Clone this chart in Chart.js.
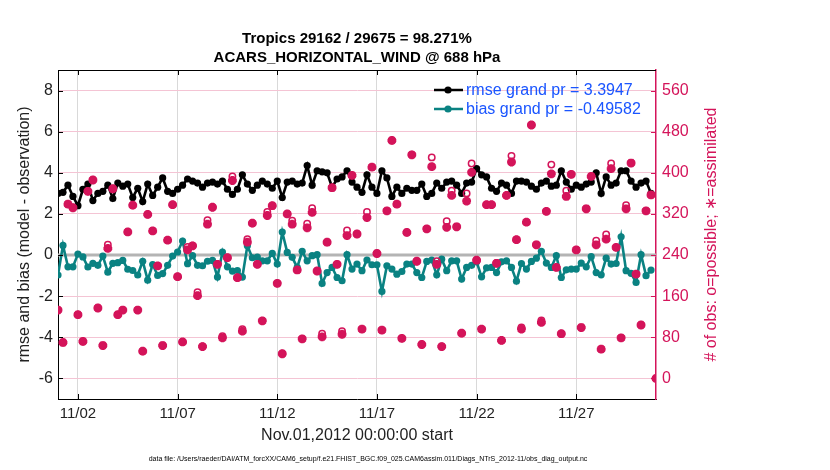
<!DOCTYPE html>
<html>
<head>
<meta charset="utf-8">
<title>Tropics ACARS_HORIZONTAL_WIND @ 688 hPa</title>
<script src="https://cdn.jsdelivr.net/npm/chart.js@4.4.0/dist/chart.umd.min.js"></script>
<style>
  html, body { margin: 0; padding: 0; background: #fff; }
  #wrap { position: relative; width: 830px; height: 470px; }
</style>
</head>
<body>
<div id="wrap"><canvas id="evolutionChart"></canvas></div>
<script>
// Texts
var titleLines = ["Tropics 29162 / 29675 = 98.271%", "ACARS_HORIZONTAL_WIND @ 688 hPa"];
var xTitle = "Nov.01,2012 00:00:00 start";
var yTitle = "rmse and bias (model - observation)";
var y2Title = "# of obs: o=possible; \u2217=assimilated";
var footnote = "data file: /Users/raeder/DAI/ATM_forcXX/CAM6_setup/f.e21.FHIST_BGC.f09_025.CAM6assim.011/Diags_NTrS_2012-11/obs_diag_output.nc";
var legendLabels = ["rmse grand pr = 3.3947", "bias grand pr = -0.49582"];

// Ticks (x in days since Nov 1 00Z)
var dayTicks = [1, 6, 11, 16, 21, 26];
var dayLabels = ["11/02", "11/07", "11/12", "11/17", "11/22", "11/27"];
var leftTicks = [-6, -4, -2, 0, 2, 4, 6, 8];
var rightTicks = [0, 80, 160, 240, 320, 400, 480, 560];

// 6-hourly bins
var binDays = [];
for (var i = 0; i <= 120; i++) binDays.push(i * 0.25);

var rmse = [
  3.0, 3.05, 3.4, 2.85, 2.4, 3.2, 3.45, 2.65, 3.0, 3.1, 3.4, 2.75, 3.5, 3.35, 3.45, 2.8, 3.25, 2.6, 3.45, 2.9,
  3.3, 3.75, 3.1, 3.0, 3.2, 3.4, 3.7, 3.6, 3.5, 3.3, 3.5, 3.55, 3.45, 3.6, 3.2, 2.95, 3.2, 3.9, 3.45, 3.15,
  3.4, 3.6, 3.45, 3.25, 3.6, 2.8, 3.55, 3.6, 3.45, 3.5, 4.35, 3.4, 4.1, 4.05, 4.0, 3.3, 3.7, 3.8, 4.1, 3.55,
  3.3, 3.05, 3.9, 3.3, 3.0, 4.1, 3.75, 2.85, 3.3, 3.0, 3.25, 3.15, 3.15, 3.45, 2.85, 3.0, 3.5, 3.25, 3.55, 3.6,
  3.4, 3.0, 3.5, 3.55, 4.2, 3.9, 3.8, 3.25, 3.1, 3.5, 3.4, 3.0, 3.6, 3.6, 3.55, 3.35, 3.2, 3.5, 3.6, 3.35,
  3.4, 4.1, 3.55, 3.2, 3.4, 3.3, 3.45, 3.55, 4.0, 3.0, 3.8, 3.4, 3.5, 4.1, 4.1, 3.6, 3.3, 3.5, 3.6, 3.0
];
var bias = [
  -0.97, 0.47, -0.57, -0.57, 0.05, -0.09, -0.58, -0.4, -0.5, -0.05, -0.83, -0.4, -0.37, -0.26, -0.69, -0.75, -0.97, -0.3, -1.22, -0.46,
  -0.99, -0.9, -0.5, -0.05, 0.15, 0.68, -0.42, -0.03, -0.5, -0.52, -0.3, -0.26, -1.07, 0.15, -0.57, -0.78, -0.75, -1.07, 0.45, -0.13,
  -0.1, -0.28, -0.28, 0.08, -0.44, 1.12, 0.13, -0.11, -0.6, 0.18, -0.28, -0.03, 0.02, -1.38, -0.85, -0.6, -1.09, -1.25, 0.02, -0.68,
  -0.44, -0.76, -0.24, -0.47, -0.47, -1.77, -0.52, -0.68, -0.93, -0.8, -0.44, -0.44, -0.85, -1.09, -0.31, -0.24, -0.96, -0.2, -0.76, -0.28,
  -0.28, -1.17, -0.6, -0.5, -0.33, -1.06, -0.62, -0.6, -0.85, -0.33, -0.28, -0.6, -1.27, -0.41, -0.68, -0.31, -0.15, 0.18, -0.39, -0.6,
  -0.03, -1.09, -0.72, -0.68, -0.68, -0.39, -0.57, -0.08, -0.85, -0.96, -0.15, -0.44, -0.41, 0.89, -0.76, -0.89, -1.33, 0.02, -1.0, -0.73
];
var nAssimilated = [
  133, 70, 339, 332, 124, 72, 364, 386, 137, 64,
  253, 369, 124, 133, 285, 337, 133, 53, 319, 287,
  219, 64, 269, 338, 198, 71, 250, 258, 161, 62,
  300, 333, 222, 79, 235, 385, 196, 92, 265, 302,
  222, 112, 317, 336, 185, 48, 320, 300, 211, 77,
  293, 323, 209, 81, 265, 371, 222, 86, 278, 395,
  281, 96, 313, 411, 243, 94, 326, 463, 339, 78,
  284, 435, 228, 66, 291, 412, 222, 62, 294, 356,
  295, 88, 345, 401, 230, 96, 338, 338, 224, 74,
  356, 421, 270, 96, 304, 493, 260, 109, 325, 398,
  216, 87, 354, 397, 250, 99, 330, 393, 260, 57,
  271, 408, 255, 79, 330, 419, 203, 104, 326, 357,
  0
];
var nPossible = [
  133, 70, 339, 332, 124, 72, 364, 386, 137, 64,
  260, 369, 124, 133, 285, 337, 133, 53, 319, 287,
  219, 64, 269, 338, 198, 71, 256, 258, 168, 62,
  308, 333, 222, 82, 235, 393, 196, 96, 271, 302,
  222, 112, 324, 336, 185, 48, 320, 307, 211, 77,
  301, 331, 209, 87, 265, 371, 222, 92, 288, 395,
  281, 96, 324, 411, 243, 94, 326, 463, 339, 78,
  284, 435, 228, 66, 291, 430, 228, 62, 306, 365,
  295, 88, 360, 418, 230, 96, 338, 338, 224, 74,
  356, 433, 270, 99, 304, 493, 260, 113, 325, 416,
  216, 87, 365, 397, 250, 99, 330, 393, 268, 57,
  280, 418, 255, 79, 337, 419, 203, 104, 326, 357,
  0
];

// Colors
var rmseColor = '#000000';
var biasColor = '#0a8282';
var obsColor = '#d4145a';
var legendColor = '#1a55ff';
var fontFamily = '"Liberation Sans", Arial, Helvetica, sans-serif';

function toPoints(values) {
    return values.map(function (v, k) { return { x: binDays[k], y: v }; });
}

// Title, legend, right label, footnote, frame and inward ticks
var decorPlugin = {
    id: 'decor',
    afterDraw: function (chart) {
        var ctx = chart.ctx;
        var area = chart.chartArea;
        var xs = chart.scales.x, ys = chart.scales.y, ys2 = chart.scales.y2;
        ctx.save();

        // top frame + inward ticks
        ctx.strokeStyle = '#000';
        ctx.lineWidth = 1;
        ctx.beginPath();
        ctx.moveTo(area.left, area.top + 0.5);
        ctx.lineTo(area.right, area.top + 0.5);
        dayTicks.forEach(function (d) {
            var px = Math.round(xs.getPixelForValue(d)) + 0.5;
            ctx.moveTo(px, area.bottom); ctx.lineTo(px, area.bottom - 5);
            ctx.moveTo(px, area.top); ctx.lineTo(px, area.top + 5);
        });
        leftTicks.forEach(function (v) {
            var py = Math.round(ys.getPixelForValue(v)) + 0.5;
            ctx.moveTo(area.left, py); ctx.lineTo(area.left + 5, py);
        });
        ctx.stroke();
        ctx.strokeStyle = obsColor;
        ctx.beginPath();
        rightTicks.forEach(function (v) {
            var py = Math.round(ys2.getPixelForValue(v)) + 0.5;
            ctx.moveTo(area.right, py); ctx.lineTo(area.right - 5, py);
        });
        ctx.stroke();

        // title
        var cx = (area.left + area.right) / 2;
        ctx.fillStyle = '#000';
        ctx.textAlign = 'center';
        ctx.textBaseline = 'alphabetic';
        ctx.font = 'bold 15px ' + fontFamily;
        ctx.fillText(titleLines[0], cx, 43);
        ctx.fillText(titleLines[1], cx, 62);

        // footnote
        ctx.font = '7px ' + fontFamily;
        ctx.fillText(footnote, 368, 461);

        // right axis label
        ctx.save();
        ctx.translate(712, (area.top + area.bottom) / 2);
        ctx.rotate(-Math.PI / 2);
        ctx.fillStyle = obsColor;
        ctx.font = '16px ' + fontFamily;
        ctx.textBaseline = 'middle';
        ctx.fillText(y2Title, 0, 0);
        ctx.restore();

        // legend
        var lx = area.right - 222, ly = area.top + 20;
        [rmseColor, biasColor].forEach(function (col, k) {
            var y = ly + k * 19;
            ctx.strokeStyle = col;
            ctx.lineWidth = 2.5;
            ctx.beginPath();
            ctx.moveTo(lx, y); ctx.lineTo(lx + 29, y);
            ctx.stroke();
            ctx.fillStyle = col;
            ctx.beginPath();
            ctx.arc(lx + 14, y, 3.6, 0, Math.PI * 2);
            ctx.fill();
            ctx.fillStyle = legendColor;
            ctx.font = '16px ' + fontFamily;
            ctx.textAlign = 'left';
            ctx.textBaseline = 'middle';
            ctx.fillText(legendLabels[k], lx + 32, y + 1);
        });
        ctx.restore();
    }
};

function createEvolutionChart() {
    var ctx = document.getElementById('evolutionChart').getContext('2d');

    new Chart(ctx, {
        type: 'scatter',
        data: {
            datasets: [{
                label: 'possible',
                data: toPoints(nPossible),
                yAxisID: 'y2',
                showLine: false,
                pointStyle: 'circle',
                pointRadius: 3.2,
                pointBorderWidth: 1.5,
                borderColor: obsColor,
                backgroundColor: 'rgba(255,255,255,0)',
                order: 0
            }, {
                label: 'assimilated',
                data: toPoints(nAssimilated),
                yAxisID: 'y2',
                showLine: false,
                pointStyle: 'star',
                pointRadius: 4.4,
                pointBorderWidth: 3,
                borderColor: obsColor,
                backgroundColor: obsColor,
                order: 1
            }, {
                label: 'rmse',
                data: toPoints(rmse),
                yAxisID: 'y',
                showLine: true,
                borderColor: rmseColor,
                backgroundColor: rmseColor,
                borderWidth: 2.6,
                pointRadius: 3.6,
                pointBorderWidth: 0,
                order: 2
            }, {
                label: 'bias',
                data: toPoints(bias),
                yAxisID: 'y',
                showLine: true,
                borderColor: biasColor,
                backgroundColor: biasColor,
                borderWidth: 2.6,
                pointRadius: 3.6,
                pointBorderWidth: 0,
                order: 3
            }, {
                label: 'zero',
                data: [{ x: 0, y: 0 }, { x: 30, y: 0 }],
                yAxisID: 'y',
                showLine: true,
                borderColor: '#b4b4b4',
                borderWidth: 3,
                pointRadius: 0,
                order: 9
            }]
        },
        options: {
            responsive: true,
            maintainAspectRatio: false,
            animation: false,
            layout: { padding: { top: 70, right: 105, left: 0, bottom: 0 } },
            plugins: {
                legend: { display: false },
                tooltip: { enabled: false }
            },
            scales: {
                x: {
                    type: 'linear',
                    min: 0,
                    max: 30,
                    afterBuildTicks: function (scale) {
                        scale.ticks = dayTicks.map(function (d) { return { value: d }; });
                    },
                    afterFit: function (scale) { scale.height = 71; },
                    ticks: {
                        padding: 6,
                        color: '#222',
                        font: { family: fontFamily, size: 15 },
                        callback: function (v) {
                            var k = dayTicks.indexOf(v);
                            return k >= 0 ? dayLabels[k] : '';
                        }
                    },
                    grid: { color: '#d9d9d9', lineWidth: 1, drawTicks: false },
                    border: { color: '#000', width: 1 },
                    title: {
                        display: true,
                        text: xTitle,
                        color: '#222',
                        font: { family: fontFamily, size: 16 },
                        padding: { top: 0, bottom: 25 }
                    }
                },
                y: {
                    position: 'left',
                    min: -7,
                    max: 9,
                    afterBuildTicks: function (scale) {
                        scale.ticks = leftTicks.map(function (v) { return { value: v }; });
                    },
                    afterFit: function (scale) { scale.width = 58; },
                    ticks: {
                        padding: 5,
                        color: '#222',
                        font: { family: fontFamily, size: 16 }
                    },
                    grid: { color: '#f4c4d4', lineWidth: 1, drawTicks: false },
                    border: { color: '#000', width: 1 },
                    title: {
                        display: true,
                        text: yTitle,
                        color: '#222',
                        font: { family: fontFamily, size: 16 },
                        padding: { top: 15, bottom: 0 }
                    }
                },
                y2: {
                    position: 'right',
                    min: -40,
                    max: 600,
                    afterBuildTicks: function (scale) {
                        scale.ticks = rightTicks.map(function (v) { return { value: v }; });
                    },
                    afterFit: function (scale) { scale.width = 69; },
                    ticks: {
                        padding: 6,
                        color: obsColor,
                        font: { family: fontFamily, size: 16 }
                    },
                    grid: { display: false, drawTicks: false },
                    border: { color: obsColor, width: 1.5 }
                }
            }
        },
        plugins: [decorPlugin]
    });
}

createEvolutionChart();
</script>
</body>
</html>
